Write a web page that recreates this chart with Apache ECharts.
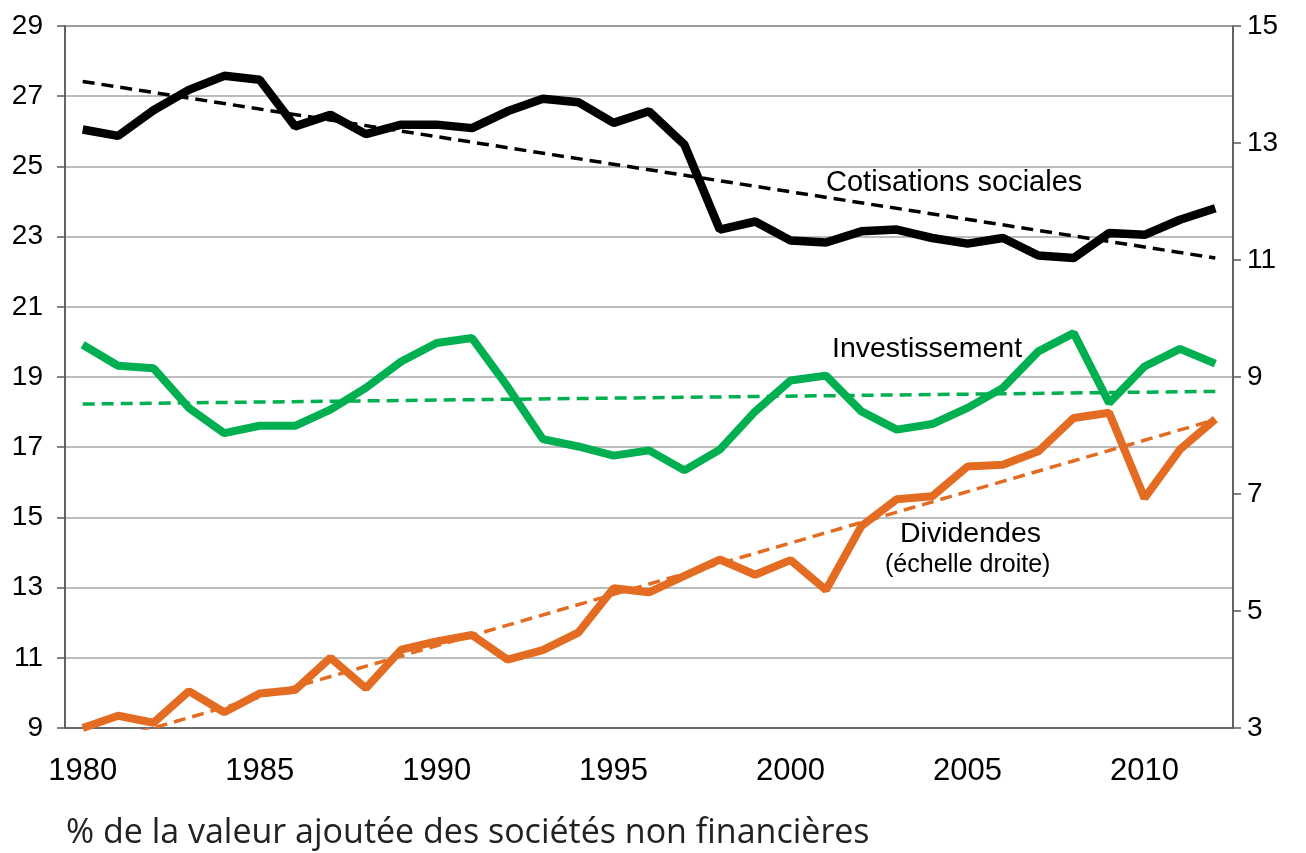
<!DOCTYPE html>
<html>
<head>
<meta charset="utf-8">
<script src="https://cdn.jsdelivr.net/npm/echarts@6/dist/echarts.min.js"></script>
<style>
  html, body { margin: 0; padding: 0; background: #fff; }
  #main { width: 1306px; height: 853px; }
</style>
</head>
<body>
<div id="main"></div>
<script>
// years on the x axis
const years = [];
for (let y = 1980; y <= 2012; y++) years.push(String(y));

// left axis (% of value added)
const cotisations = [26.05, 25.87, 26.6, 27.18, 27.58, 27.47, 26.14, 26.47, 25.92, 26.19,
  26.19, 26.09, 26.57, 26.93, 26.83, 26.24, 26.57, 25.62, 23.2, 23.43,
  22.89, 22.83, 23.15, 23.2, 22.96, 22.8, 22.96, 22.46, 22.39, 23.1,
  23.05, 23.48, 23.81];
const investissement = [19.92, 19.32, 19.25, 18.12, 17.4, 17.61, 17.61, 18.07, 18.69, 19.44,
  19.97, 20.11, 18.73, 17.23, 17.02, 16.76, 16.91, 16.34, 16.93, 18.02,
  18.9, 19.04, 18.02, 17.5, 17.66, 18.12, 18.69, 19.73, 20.25, 18.26,
  19.3, 19.8, 19.38];
// right axis
const dividendes = [3.0, 3.21, 3.09, 3.63, 3.27, 3.59, 3.65, 4.2, 3.68, 4.34,
  4.48, 4.59, 4.17, 4.33, 4.63, 5.39, 5.32, 5.6, 5.88, 5.62,
  5.87, 5.36, 6.45, 6.91, 6.96, 7.47, 7.5, 7.73, 8.3, 8.39,
  6.93, 7.76, 8.28];

// trend lines: start (1980) and end (2012) values
const trendCotisations = [27.42, 22.39];
const trendInvestissement = [18.23, 18.59];
const trendDividendes = [2.65, 8.27];

function trend(ends) {
  return years.map((y, i) => i === 0 ? ends[0] : (i === years.length - 1 ? ends[1] : null));
}

const chart = echarts.init(document.getElementById('main'));

const lineStyle = (color, w, type) => ({ color: color, width: w, type: type || 'solid' });
const arial = '"Liberation Sans", Arial, sans-serif';

chart.setOption({
  animation: false,
  grid: { left: 65, right: 73, top: 26, bottom: 125, show: true, borderColor: '#595959', borderWidth: 1.5 },
  xAxis: {
    type: 'category',
    data: years,
    boundaryGap: true,
    axisLine: { lineStyle: { color: '#595959', width: 1.5 } },
    axisTick: { interval: 0, length: 12, lineStyle: { color: '#595959', width: 1.5 } },
    axisLabel: { interval: 4, margin: 28, color: '#000', fontSize: 31, fontFamily: '"Liberation Sans Narrow", "Arial Narrow", ' + arial },
    splitLine: { show: false }
  },
  yAxis: [{
    type: 'value', min: 9, max: 29, interval: 2, position: 'left',
    axisLine: { show: true, lineStyle: { color: '#595959', width: 1.5 } },
    axisTick: { show: true, length: 8, lineStyle: { color: '#595959', width: 1.5 } },
    axisLabel: { margin: 22, color: '#000', fontSize: 28, fontFamily: arial },
    splitLine: { lineStyle: { color: '#a6a6a6', width: 1.5 } }
  }, {
    type: 'value', min: 3, max: 15, interval: 2, position: 'right',
    axisLine: { show: true, lineStyle: { color: '#595959', width: 1.5 } },
    axisTick: { show: true, length: 8, lineStyle: { color: '#595959', width: 1.5 } },
    axisLabel: { margin: 14, color: '#000', fontSize: 28, fontFamily: arial },
    splitLine: { show: false }
  }],
  series: [
    { name: 'Cotisations tendance', type: 'line', data: trend(trendCotisations), connectNulls: true, symbol: 'none',
      lineStyle: lineStyle('#000', 3.5, [12, 7]), z: 2 },
    { name: 'Investissement tendance', type: 'line', data: trend(trendInvestissement), connectNulls: true, symbol: 'none',
      lineStyle: lineStyle('#00b050', 3.5, [12, 7]), z: 2 },
    { name: 'Dividendes tendance', type: 'line', yAxisIndex: 1, data: trend(trendDividendes), connectNulls: true, symbol: 'none',
      lineStyle: lineStyle('#e46c22', 3.5, [12, 7]), z: 2 },
    { name: 'Cotisations sociales', type: 'line', data: cotisations, symbol: 'none',
      lineStyle: lineStyle('#000', 8.5), z: 3 },
    { name: 'Investissement', type: 'line', data: investissement, symbol: 'none',
      lineStyle: lineStyle('#00b050', 8), z: 3 },
    { name: 'Dividendes', type: 'line', yAxisIndex: 1, data: dividendes, symbol: 'none',
      lineStyle: lineStyle('#e46c22', 8), z: 3 }
  ],
  graphic: [
    { type: 'text', left: 826, top: 168, style: { text: 'Cotisations sociales', fill: '#000', font: '29px ' + arial } },
    { type: 'text', left: 832, top: 335, style: { text: 'Investissement', fill: '#000', font: '28.5px ' + arial } },
    { type: 'text', left: 900, top: 520, style: { text: 'Dividendes', fill: '#000', font: '28.5px ' + arial } },
    { type: 'text', left: 885, top: 553, style: { text: '(échelle droite)', fill: '#000', font: '25px ' + arial } },
    { type: 'text', left: 66, top: 816, style: { text: '% de la valeur ajoutée des sociétés non financières', fill: '#222', font: '34px "Open Sans", "Noto Sans", sans-serif' } }
  ]
});
</script>
</body>
</html>
